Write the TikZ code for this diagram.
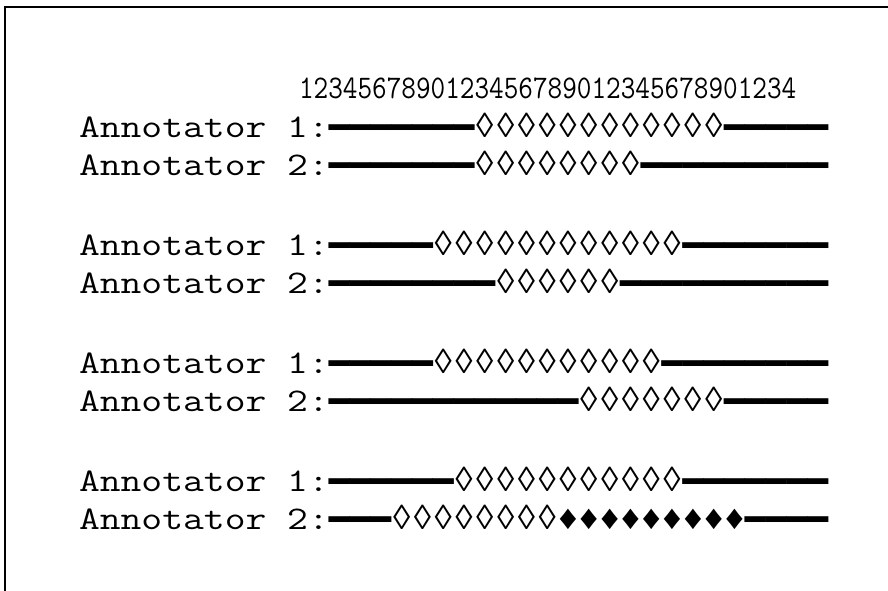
\documentclass[tikz,border=0pt]{standalone}
\usepackage{fontspec}
\usepackage{graphicx}
\setmainfont{Liberation Mono}
\newfontfamily\labelfont{Latin Modern Mono}
\newfontfamily\symfont{Liberation Mono}
\newfontfamily\boxfont{DejaVu Sans Mono}
\newcommand\dd[1]{\raisebox{-2pt}{\boxfont\fontsize{34.55}{40}\selectfont #1}}
\newcommand\sy[1]{{\symfont\fontsize{34.67}{40}\selectfont #1}}
\newcommand\lab[1]{\scalebox{1.2252}[1]{#1}}
\tikzset{
  rowtext/.style={anchor=base west, inner sep=0pt, outer sep=0pt,
    font=\labelfont\fontsize{33}{40}\selectfont},
  numtext/.style={anchor=base west, inner sep=0pt, outer sep=0pt,
    font=\labelfont\fontsize{33}{40}\selectfont},
  frameline/.style={line width=2pt, line cap=rect}
}
\begin{document}
\begin{tikzpicture}[x=1pt,y=-1pt]
\useasboundingbox (0,0) rectangle (888,590);
\draw[frameline] (888,7) -- (5,7) -- (5,590);
\node[numtext] (nums) at (299,98) {\scalebox{0.861}[1]{1234567890123456789012345678901234}};
\node[rowtext] (p1a1) at (79,137) {\lab{Annotator 1:}\dd{━━━━━━━}\sy{◊◊◊◊◊◊◊◊◊◊◊◊}\dd{━━━━━}};
\node[rowtext] (p1a2) at (79,175) {\lab{Annotator 2:}\dd{━━━━━━━}\sy{◊◊◊◊◊◊◊◊}\dd{━━━━━━━━━}};
\node[rowtext] (p2a1) at (79,255) {\lab{Annotator 1:}\dd{━━━━━}\sy{◊◊◊◊◊◊◊◊◊◊◊◊}\dd{━━━━━━━}};
\node[rowtext] (p2a2) at (79,293) {\lab{Annotator 2:}\dd{━━━━━━━━}\sy{◊◊◊◊◊◊}\dd{━━━━━━━━━━}};
\node[rowtext] (p3a1) at (79,373) {\lab{Annotator 1:}\dd{━━━━━}\sy{◊◊◊◊◊◊◊◊◊◊◊}\dd{━━━━━━━━}};
\node[rowtext] (p3a2) at (79,411) {\lab{Annotator 2:}\dd{━━━━━━━━━━━━}\sy{◊◊◊◊◊◊◊}\dd{━━━━━}};
\node[rowtext] (p4a1) at (79,491) {\lab{Annotator 1:}\dd{━━━━━━}\sy{◊◊◊◊◊◊◊◊◊◊◊}\dd{━━━━━━━}};
\node[rowtext] (p4a2) at (79,529) {\lab{Annotator 2:}\dd{━━━}\sy{◊◊◊◊◊◊◊◊♦♦♦♦♦♦♦♦♦}\dd{━━━━}};
\end{tikzpicture}
\end{document}
